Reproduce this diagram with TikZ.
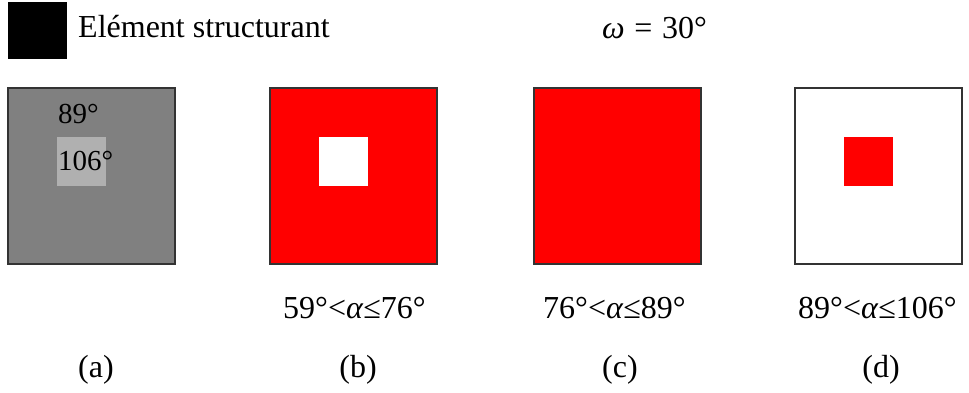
\documentclass[tikz,border=0pt]{standalone}
\usepackage{fontspec}
\setmainfont{Liberation Serif}
\definecolor{midgray}{HTML}{808080}
\definecolor{lightgray2}{HTML}{B0B0B0}
\definecolor{pureRed}{HTML}{FF0000}
\definecolor{edge}{HTML}{333333}
\begin{document}
\begin{tikzpicture}[x=1pt,y=-1pt,
  panel/.style={draw=edge, line width=1.2pt, minimum width=167pt, minimum height=176pt, inner sep=0pt, outer sep=0pt, anchor=north west},
  innersq/.style={draw=none, minimum width=49pt, minimum height=49pt, inner sep=0pt, outer sep=0pt, anchor=north west},
  lab/.style={font=\fontsize{32}{37}\selectfont, inner sep=0pt, anchor=base west},
  sm/.style={font=\fontsize{29}{34}\selectfont, inner sep=0pt, anchor=base west}]
\useasboundingbox (0,0) rectangle (969,392);
% legend
\node[draw=none, fill=black, minimum width=59pt, minimum height=57pt, inner sep=0pt, anchor=north west] (legend) at (8,2) {};
\node[lab] (legtxt) at (78,37) {Elément structurant};
\node[lab] (omega) at (602,38) {\textit{ω}\hspace{0.3em}=\hspace{0.3em}30°};
% panel (a)
\node[panel, fill=midgray] (pa) at (8,88) {};
\node[innersq, fill=lightgray2] (pai) at (57,137) {};
\node[sm] (t89) at (58,123) {89°};
\node[sm] (t106) at (58,170) {106°};
% panel (b)
\node[panel, fill=pureRed] (pb) at (270,88) {};
\node[innersq, fill=white] (pbi) at (319,137) {};
% panel (c)
\node[panel, fill=pureRed] (pc) at (534,88) {};
% panel (d)
\node[panel, fill=white] (pd) at (795,88) {};
\node[innersq, fill=pureRed] (pdi) at (844,137) {};
% range labels
\node[lab] (rb) at (283,318) {59°<\textit{α}≤76°};
\node[lab] (rc) at (543,318) {76°<\textit{α}≤89°};
\node[lab] (rd) at (798,318) {89°<\textit{α}≤106°};
% captions
\node[lab, anchor=base] (ca) at (96,377) {(a)};
\node[lab, anchor=base] (cb) at (358,377) {(b)};
\node[lab, anchor=base] (cc) at (620,377) {(c)};
\node[lab, anchor=base] (cd) at (881,377) {(d)};
\end{tikzpicture}
\end{document}
